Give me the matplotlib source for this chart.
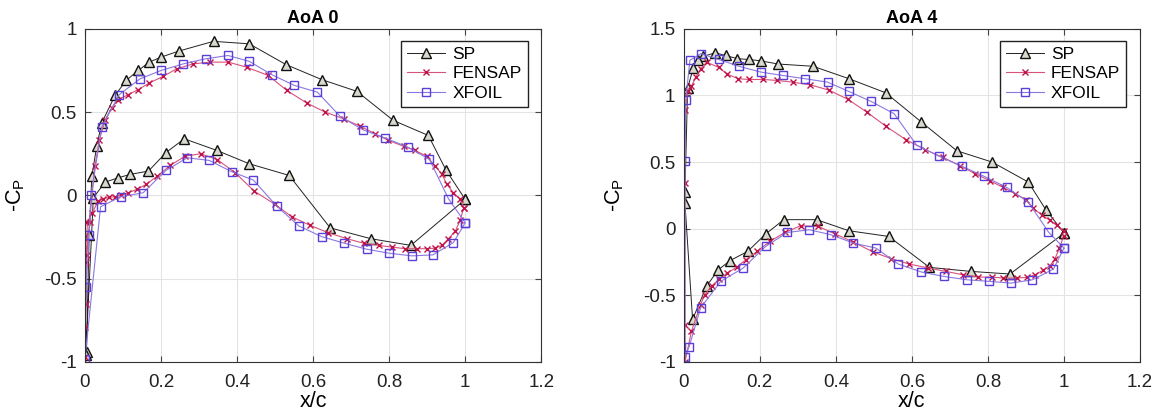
import matplotlib
matplotlib.use('Agg')
import matplotlib.pyplot as plt

plt.rcParams['font.family'] = ['Liberation Sans', 'DejaVu Sans']

# ---- AoA 0 ----
sp0_x = [1.0, 0.95, 0.903, 0.811, 0.715, 0.623, 0.529, 0.432, 0.338, 0.246, 0.20, 0.169, 0.14, 0.108,
         0.079, 0.044, 0.031, 0.018, 0.011, 0.004, 0.002, 0.022, 0.053, 0.088, 0.118, 0.167, 0.213,
         0.261, 0.347, 0.432, 0.537, 0.645, 0.752, 0.857, 1.0]
sp0_y = [-0.024, 0.15, 0.36, 0.45, 0.625, 0.695, 0.785, 0.91, 0.925, 0.866, 0.83, 0.80, 0.75, 0.69,
         0.60, 0.435, 0.297, 0.115, -0.235, -0.94, -0.96, -0.014, 0.08, 0.106, 0.126, 0.146, 0.257,
         0.34, 0.27, 0.19, 0.12, -0.195, -0.26, -0.30, -0.024]

fe0_x = [0.996, 0.987, 0.969, 0.952, 0.939, 0.921, 0.899, 0.868, 0.838, 0.798, 0.763, 0.724, 0.68,
         0.632, 0.583, 0.531, 0.482, 0.425, 0.377, 0.329, 0.285, 0.241, 0.206, 0.169, 0.14, 0.114,
         0.088, 0.07, 0.053, 0.038, 0.026, 0.012, 0.004, 0.003, 0.002, 0.001, 0.0,
         0.006, 0.018, 0.035, 0.048, 0.063, 0.079, 0.094, 0.114, 0.136, 0.161, 0.19, 0.224, 0.263,
         0.304, 0.348, 0.395, 0.445, 0.5, 0.544, 0.592, 0.64, 0.689, 0.733, 0.772, 0.807, 0.842,
         0.873, 0.899, 0.921, 0.939, 0.956, 0.974, 0.987, 0.996]
fe0_y = [-0.074, -0.024, 0.016, 0.066, 0.126, 0.176, 0.235, 0.27, 0.295, 0.33, 0.37, 0.415, 0.46,
         0.50, 0.555, 0.63, 0.72, 0.77, 0.80, 0.80, 0.79, 0.76, 0.715, 0.675, 0.635, 0.605,
         0.575, 0.525, 0.455, 0.335, 0.175, -0.16, -0.36, -0.40, -0.65, -0.79, -0.97,
         -0.16, -0.108, -0.034, -0.02, -0.012, -0.008, 0.0, 0.016, 0.036, 0.066, 0.116, 0.18, 0.235,
         0.25, 0.215, 0.136, 0.026, -0.054, -0.128, -0.18, -0.224, -0.26, -0.287, -0.30, -0.31, -0.32,
         -0.32, -0.32, -0.317, -0.30, -0.26, -0.214, -0.148, -0.074]

xf0_x = [1.0, 0.956, 0.906, 0.849, 0.789, 0.73, 0.671, 0.611, 0.551, 0.491, 0.432, 0.376, 0.317,
         0.259, 0.20, 0.145, 0.09, 0.044, 0.016, 0.011, 0.003, 0.0, 0.041, 0.094, 0.153, 0.213,
         0.269, 0.327, 0.386, 0.443, 0.504, 0.563, 0.623, 0.682, 0.741, 0.80, 0.86, 0.915, 0.969, 1.0]
xf0_y = [-0.164, -0.02, 0.216, 0.29, 0.345, 0.395, 0.475, 0.62, 0.66, 0.725, 0.805, 0.84, 0.82,
         0.79, 0.75, 0.70, 0.605, 0.41, 0.0, -0.235, -0.547, -0.98, -0.068, -0.008, 0.016, 0.15,
         0.226, 0.21, 0.142, 0.092, -0.064, -0.184, -0.248, -0.287, -0.323, -0.347, -0.363, -0.357,
         -0.283, -0.164]

# ---- AoA 4 ----
sp4_x = [1.0, 0.952, 0.906, 0.811, 0.718, 0.625, 0.531, 0.434, 0.34, 0.248, 0.202, 0.171, 0.141,
         0.11, 0.082, 0.051, 0.038, 0.025, 0.01, 0.003, 0.003, 0.023, 0.06, 0.09, 0.121, 0.168,
         0.215, 0.263, 0.349, 0.434, 0.539, 0.646, 0.754, 0.858, 1.0]
sp4_y = [-0.033, 0.143, 0.35, 0.50, 0.585, 0.80, 1.02, 1.126, 1.219, 1.236, 1.26, 1.27, 1.276,
         1.30, 1.32, 1.293, 1.263, 1.205, 1.056, 0.275, 0.19, -0.68, -0.43, -0.31, -0.24, -0.17,
         -0.04, 0.068, 0.068, -0.015, -0.058, -0.29, -0.32, -0.34, -0.033]

fe4_x = [0.999, 0.981, 0.963, 0.941, 0.918, 0.9, 0.871, 0.84, 0.805, 0.766, 0.726, 0.682, 0.635,
         0.584, 0.532, 0.481, 0.432, 0.382, 0.332, 0.286, 0.244, 0.209, 0.172, 0.143, 0.114, 0.092,
         0.06, 0.044, 0.032, 0.02, 0.011, 0.003, 0.003, 0.003,
         0.003, 0.02, 0.044, 0.055, 0.073, 0.093, 0.114, 0.139, 0.163, 0.193, 0.226, 0.266, 0.307,
         0.354, 0.397, 0.446, 0.498, 0.546, 0.593, 0.643, 0.689, 0.733, 0.774, 0.81, 0.84, 0.875,
         0.902, 0.924, 0.944, 0.963, 0.976, 0.988, 0.999]
fe4_y = [-0.02, 0.025, 0.062, 0.105, 0.155, 0.218, 0.263, 0.31, 0.36, 0.413, 0.473, 0.535, 0.593,
         0.668, 0.768, 0.876, 0.97, 1.04, 1.08, 1.10, 1.113, 1.12, 1.12, 1.126, 1.16, 1.21,
         1.25, 1.2, 1.14, 1.07, 1.03, 0.888, 0.343, -0.72,
         -1.0, -0.77, -0.57, -0.495, -0.43, -0.378, -0.333, -0.288, -0.233, -0.17, -0.095, -0.028,
         0.022, 0.017, -0.038, -0.10, -0.175, -0.225, -0.265, -0.295, -0.32, -0.345, -0.363, -0.363,
         -0.37, -0.37, -0.365, -0.345, -0.313, -0.278, -0.225, -0.145, -0.053]

xf4_x = [1.0, 0.959, 0.906, 0.849, 0.79, 0.732, 0.672, 0.612, 0.553, 0.492, 0.434, 0.378, 0.318,
         0.26, 0.202, 0.146, 0.092, 0.045, 0.016, 0.005, 0.003, 0.003, 0.014, 0.044, 0.097, 0.156,
         0.215, 0.272, 0.33, 0.387, 0.446, 0.505, 0.564, 0.625, 0.684, 0.744, 0.803, 0.86, 0.917,
         0.972, 1.0]
xf4_y = [-0.145, -0.025, 0.20, 0.31, 0.393, 0.468, 0.543, 0.628, 0.863, 0.956, 1.03, 1.10, 1.126,
         1.15, 1.176, 1.218, 1.27, 1.314, 1.264, 0.968, 0.51, -0.96, -0.885, -0.595, -0.395, -0.295,
         -0.133, -0.028, -0.008, -0.045, -0.108, -0.145, -0.265, -0.325, -0.358, -0.383, -0.395,
         -0.408, -0.383, -0.303, -0.145]

panels = [
    ('AoA 0', sp0_x, sp0_y, fe0_x, fe0_y, xf0_x, xf0_y, [-1, -0.5, 0, 0.5, 1], (-1, 1)),
    ('AoA 4', sp4_x, sp4_y, fe4_x, fe4_y, xf4_x, xf4_y, [-1, -0.5, 0, 0.5, 1, 1.5], (-1, 1.5)),
]

fig = plt.figure(figsize=(11.61, 4.18), dpi=100)
lefts = [0.0732, 0.589]

for (title, spx, spy, fex, fey, xfx, xfy, yt, yl), l in zip(panels, lefts):
    ax = fig.add_axes([l, 0.134, 0.393, 0.797])
    ax.plot(spx, spy, '-', color='#222222', lw=0.7, marker='^', ms=7,
            mfc='#d8d8cc', mec='#111111', mew=1.0, label='SP')
    ax.plot(fex, fey, '-', color='#d8527a', lw=0.8, marker='x', ms=5,
            mec='#c0134a', mew=1.0, label='FENSAP')
    ax.plot(xfx, xfy, '-', color='#8a78e0', lw=0.8, marker='s', ms=5.5,
            mfc='none', mec='#5b3fd6', mew=1.0, label='XFOIL')
    ax.set_xlim(0, 1.2)
    ax.set_ylim(*yl)
    ax.set_xticks([0, 0.2, 0.4, 0.6, 0.8, 1, 1.2])
    ax.set_xticklabels(['0', '0.2', '0.4', '0.6', '0.8', '1', '1.2'])
    ax.set_yticks(yt)
    ax.set_yticklabels(['%g' % v for v in yt])
    ax.grid(True, color='#e3e3e3', lw=0.8)
    ax.set_axisbelow(True)
    ax.tick_params(direction='in', top=True, right=True, labelsize=13.5, length=4,
                   color='#444444', labelcolor='#222222')
    ax.tick_params(axis='x', pad=9)
    ax.tick_params(axis='y', pad=6)
    for s in ax.spines.values():
        s.set_color('#333333')
        s.set_linewidth(0.8)
    ax.set_title(title, fontsize=13, fontweight='bold', pad=4)
    ax.set_xlabel('x/c', fontsize=15.5, labelpad=0)
    ax.set_ylabel('-C$_\\mathregular{P}$', fontsize=15.5, labelpad=12)
    ax.legend(loc='upper right', fontsize=12.5, fancybox=False, edgecolor='#222222',
              framealpha=1, handlelength=2.2, handletextpad=0.4, borderpad=0.35,
              labelspacing=0.25, borderaxespad=0, bbox_to_anchor=(0.97, 0.965))

plt.savefig('out.png', dpi=100)
